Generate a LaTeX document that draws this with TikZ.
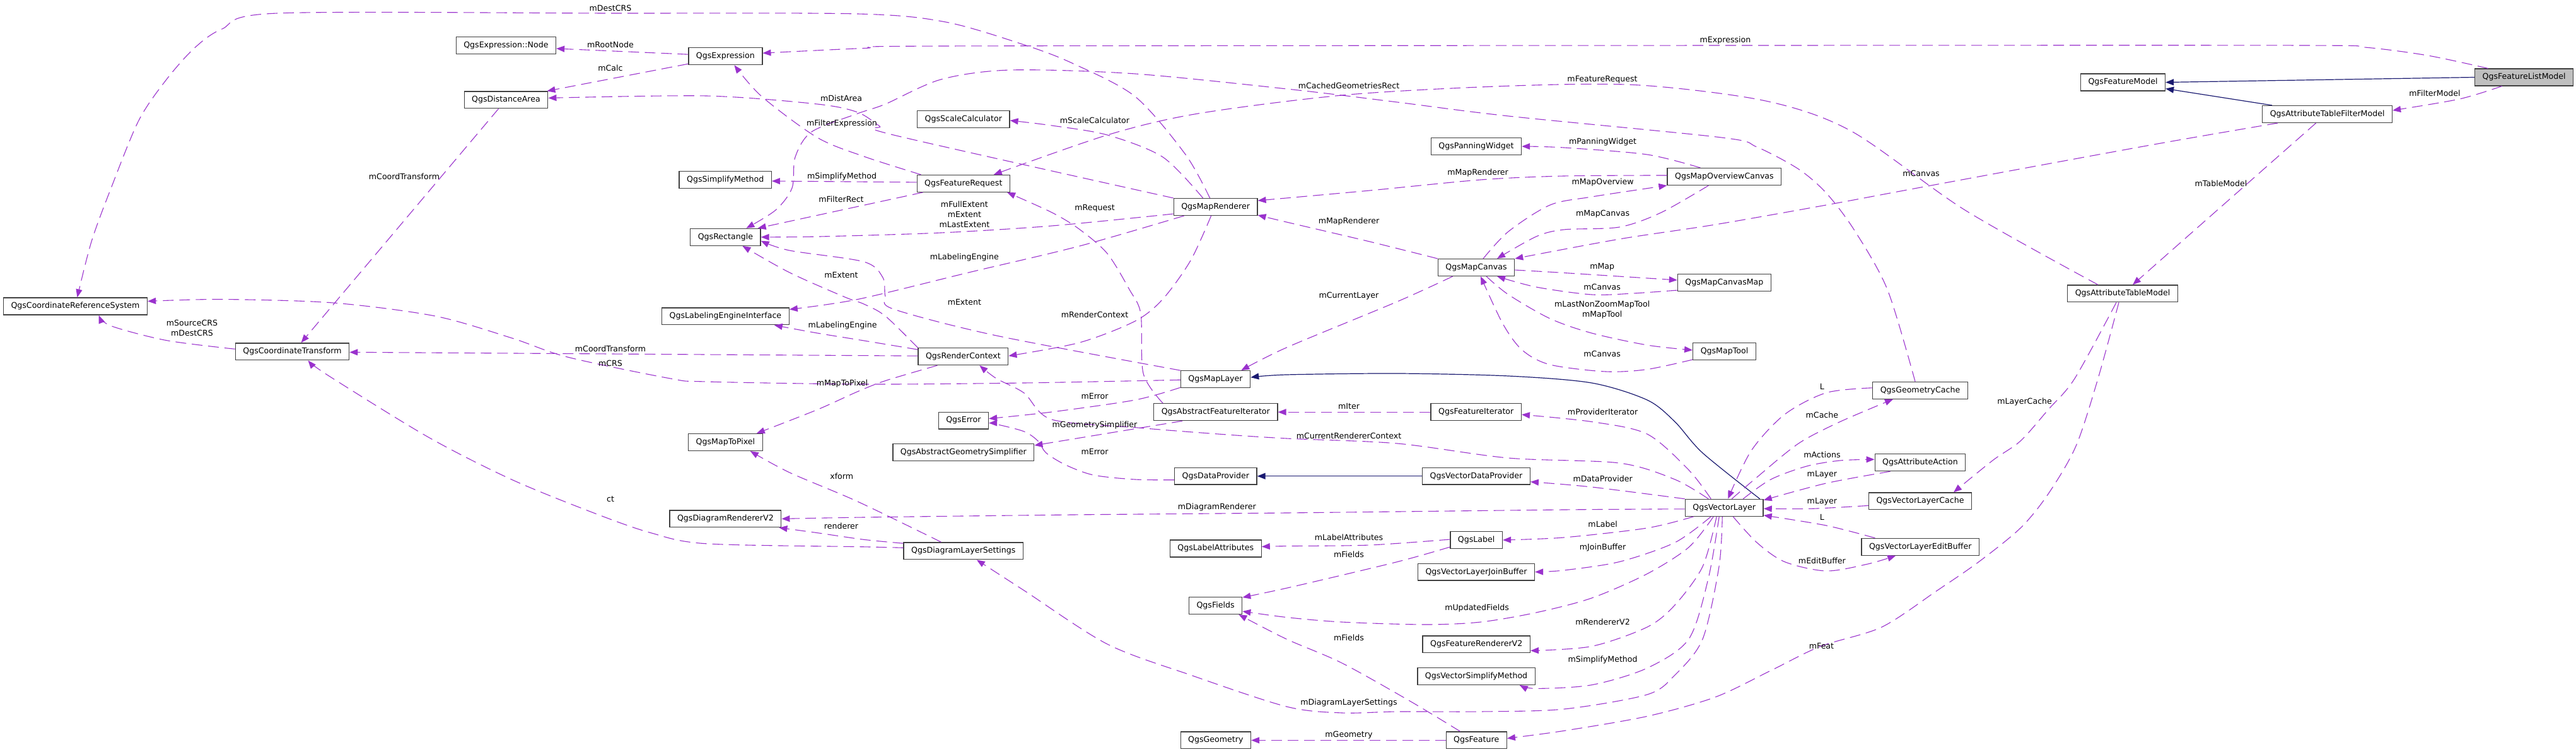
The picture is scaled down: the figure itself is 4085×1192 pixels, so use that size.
\documentclass[tikz,border=0pt]{standalone}
\usepackage{fontspec}
\setmainfont{DejaVu Sans}
\usetikzlibrary{arrows.meta,calc}
\definecolor{dorchid}{HTML}{9A32CD}
\definecolor{mblue}{HTML}{191970}
\definecolor{greyfill}{HTML}{BFBFBF}
\begin{document}
\begin{tikzpicture}[x=0.5pt,y=-0.5pt,
  cls/.style={draw=black!75, line width=0.65pt, fill=white, minimum height=13.4pt,
    inner xsep=6pt, inner ysep=0pt, font=\fontsize{6.3}{7.5}\selectfont},
  lab/.style={font=\fontsize{6.3}{8}\selectfont, inner sep=0pt, align=center},
  dep/.style={draw=dorchid, line width=0.55pt, dash pattern=on 8.5pt off 4.5pt,
    -{Triangle[length=6.5pt,width=5pt]}},
  inh/.style={draw=mblue, line width=0.6pt, -{Triangle[length=6.5pt,width=5pt]}},
  every plot/.style={smooth, tension=0.5}]
\fill[white] (0,0) rectangle (4085,1192);
\useasboundingbox (0,0) rectangle (4085,1192);

% ---------- classes ----------
\node[cls] (crs) at (119.5,485.5) {QgsCoordinateReferenceSystem};
\node[cls] (ct) at (463.5,557.3) {QgsCoordinateTransform};
\node[cls] (exnode) at (802.4,72) {QgsExpression::Node};
\node[cls] (expr) at (1150.4,89.2) {QgsExpression};
\node[cls] (dist) at (802.5,158.4) {QgsDistanceArea};
\node[cls] (simp) at (1150.2,285) {QgsSimplifyMethod};
\node[cls] (rect) at (1150.4,375.8) {QgsRectangle};
\node[cls] (lei) at (1150.4,501.4) {QgsLabelingEngineInterface};
\node[cls] (m2p) at (1150.4,701) {QgsMapToPixel};
\node[cls] (drv2) at (1150.4,822.4) {QgsDiagramRendererV2};
\node[cls] (scale) at (1527.8,189) {QgsScaleCalculator};
\node[cls] (freq) at (1527.8,290.9) {QgsFeatureRequest};
\node[cls] (rctx) at (1527.4,565.2) {QgsRenderContext};
\node[cls] (err) at (1527.9,666.6) {QgsError};
\node[cls] (ags) at (1527.8,717) {QgsAbstractGeometrySimplifier};
\node[cls] (dls) at (1527.8,873.3) {QgsDiagramLayerSettings};
\node[cls] (mrend) at (1927.6,328) {QgsMapRenderer};
\node[cls] (mlayer) at (1927.5,601.2) {QgsMapLayer};
\node[cls] (afi) at (1927.8,653.2) {QgsAbstractFeatureIterator};
\node[cls] (dprov) at (1927.8,754.7) {QgsDataProvider};
\node[cls] (lattr) at (1927.8,869.5) {QgsLabelAttributes};
\node[cls] (fields) at (1927.6,960) {QgsFields};
\node[cls] (geom) at (1927.8,1173.4) {QgsGeometry};
\node[cls] (pan) at (2341,232) {QgsPanningWidget};
\node[cls] (mcanvas) at (2341,424) {QgsMapCanvas};
\node[cls] (fiter) at (2340.7,653.2) {QgsFeatureIterator};
\node[cls] (vdp) at (2341,754.7) {QgsVectorDataProvider};
\node[cls] (label) at (2341.2,856) {QgsLabel};
\node[cls] (jbuf) at (2341,906.6) {QgsVectorLayerJoinBuffer};
\node[cls] (frv2) at (2341.2,1021.4) {QgsFeatureRendererV2};
\node[cls] (vsm) at (2341,1072) {QgsVectorSimplifyMethod};
\node[cls] (feat) at (2341.2,1173.4) {QgsFeature};
\node[cls] (moc) at (2734.4,280) {QgsMapOverviewCanvas};
\node[cls] (mcm) at (2734.4,448) {QgsMapCanvasMap};
\node[cls] (mtool) at (2734.5,557) {QgsMapTool};
\node[cls] (vl) at (2734.2,804.8) {QgsVectorLayer};
\node[cls] (gcache) at (3045,618.8) {QgsGeometryCache};
\node[cls] (aact) at (3045,733.2) {QgsAttributeAction};
\node[cls] (vlc) at (3045,794.4) {QgsVectorLayerCache};
\node[cls] (vleb) at (3045.2,866.8) {QgsVectorLayerEditBuffer};
\node[cls] (fmodel) at (3366.5,130.5) {QgsFeatureModel};
\node[cls] (atm) at (3366,465.4) {QgsAttributeTableModel};
\node[cls] (atfm) at (3690.6,181) {QgsAttributeTableFilterModel};
\node[cls,fill=greyfill] (flm) at (4002.6,122.5) {QgsFeatureListModel};

% ---------- inheritance ----------
\draw[inh] (flm.west) -- (fmodel.east);
\draw[inh] ($(atfm.north west)+(16,0)$) -- ($(fmodel.south east)+(0,-4)$);
\draw[inh] plot coordinates {($(vl.north east)+(-6,0)$) (2700,718) (2656,668.5) (2612,634) (2524,607) (2392,596) (2216,592) (2040,594) ($(mlayer.east)+(0,-3)$)};
\draw[inh] (vdp.west) -- (dprov.east);

% ---------- usage ----------
\draw[dep] plot coordinates {($(flm.south)+(-35,0)$) (3900,157) ($(atfm.east)+(0,-6)$)};
\draw[dep] plot coordinates {($(flm.north)+(-57,0)$) (3850,88) (3750,75) (3650,72) (2800,72) (1500,73) (1370,76.5) ($(expr.east)+(0,-5)$)};
\draw[dep] ($(atfm.south)+(-18,0)$) -- ($(atm.north)+(16,0)$);
\draw[dep] plot coordinates {($(atm.north)+(-39,0)$) (3116,333) (2936,208) (2800,160) (2600,135) (2400,136) (2139,150) (1900,180) (1756,214) ($(freq.north)+(48,0)$)};
\draw[dep] plot coordinates {($(gcache.north)+(-8,0)$) (2993,459) (2940,364) (2896,306) (2852,268) (2786,233) (2730,218) (2392,184) (2216,162) (2050,142) (1800,117) (1602,111) (1492,126) (1404,165) (1360,180) (1287,209) (1261,249) (1256,298) (1230,333) ($(rect.north)+(33,0)$)};
\draw[dep] plot coordinates {($(mrend.north)+(-9,0)$) (1880,245) (1800,153) (1700,100) (1624,71) (1500,35) (1360,22) (968,21) (440,21) (352,46) (308,76.5) (264,126) (220,191) (176,298.5) (145,383) ($(crs.north)+(3,0)$)};
\draw[dep] plot coordinates {($(mrend.north)+(-20,0)$) (1844,249) (1756,214) (1668,199) ($(scale.east)+(0,2)$)};
\draw[dep] plot coordinates {(mrend.north west) (1417,214) (1395,200) (1360,178) (1296,165) (1120,152) ($(dist.east)+(0,-3)$)};
\draw[dep] plot coordinates {($(freq.north west)+(7,0)$) (1370,248) (1296,218) (1208,153) ($(expr.south)+(14,0)$)};
\draw[dep] ($(expr.west)+(0,-3)$) -- ($(exnode.east)+(0,5)$);
\draw[dep] ($(expr.south west)+(0,-2)$) -- ($(dist.north east)+(-2,0)$);
\draw[dep] ($(freq.west)+(0,-2)$) -- ($(simp.east)+(0,2)$);
\draw[dep] ($(freq.south west)+(10,0)$) -- ($(rect.north east)+(-5,0)$);
\draw[dep] plot coordinates {($(mrend.west)+(0,11)$) (1668,358) (1492,369) (1300,375) (rect.east)};
\draw[dep] plot coordinates {(mlayer.north west) (1580,532) (1417,490) (1404,470) (1400,440) (1370,415) (1252,397) ($(rect.east)+(0,6)$)};
\draw[dep] plot coordinates {(rctx.north west) (1404,501) (1370,482) (1340,471) (1252,432) ($(rect.south)+(27,0)$)};
\draw[dep] plot coordinates {($(mrend.south)+(-7,0)$) (1888,413) (1844,474) (1800,509) (1712,543) ($(rctx.east)+(0,-1)$)};
\draw[dep] plot coordinates {($(vl.north)+(-25,0)$) (2656,760) (2568,734) (2392,726) (2216,703) (2040,695) (1932,688) (1804,678) (1668,665) (1624,623) (1580,600) ($(rctx.south)+(26,0)$)};
\draw[dep] plot coordinates {($(mrend.south west)+(17,0)$) (1712,390) (1536,432) (1360,474.5) ($(lei.east)+(0,-11)$)};
\draw[dep] plot coordinates {($(rctx.north west)+(0,3)$) (1370,540) (1296,528) ($(lei.south east)+(-24,0)$)};
\draw[dep] plot coordinates {($(moc.north)+(-38,0)$) (2612,245) (2480,234) (pan.east)};
\draw[dep] plot coordinates {($(moc.west)+(0,-2)$) (2480,279) (2348,285) (2172,302) ($(mrend.east)+(0,-10)$)};
\draw[dep] plot coordinates {($(mcanvas.north)+(11,0)$) (2392,367) (2458,325) (2524,312) (moc.south west)};
\draw[dep] plot coordinates {($(moc.south)+(-25,0)$) (2634,337) (2568,360) (2480,364) (2436,375) ($(mcanvas.north)+(33,0)$)};
\draw[dep] plot coordinates {($(atfm.south west)+(25,0)$) (3410,230) (3046,297) (2896,325) (2720,356) (2568,379) (mcanvas.north east)};
\draw[dep] plot coordinates {(mcanvas.north west) (2172,383) (2040,352) ($(mrend.east)+(0,13)$)};
\draw[dep] plot coordinates {($(mcanvas.east)+(0,4)$) (2480,432.5) ($(mcm.west)+(0,-4)$)};
\draw[dep] plot coordinates {($(mcm.south west)+(0,-2)$) (2590,465) (2524,467) (2436,455) ($(mcanvas.south)+(33,0)$)};
\draw[dep] plot coordinates {($(mcanvas.south)+(16,0)$) (2392,467) (2458,505) (2524,528) (2612,547) ($(mtool.west)+(0,-2)$)};
\draw[dep] plot coordinates {($(mtool.south west)+(0,-1)$) (2612,585.5) (2546,589) (2458,578) (2414,555) (2383,513) ($(mcanvas.south)+(7,0)$)};
\draw[dep] plot coordinates {($(mcanvas.south west)+(24,0)$) (2216,478) (2040,551) ($(mlayer.north east)+(-15,0)$)};
\draw[dep] plot coordinates {($(mlayer.west)+(0,1)$) (1624,607) (1370,609) (1120,605) (1063,600) (900,566) (812,536) (690,501) (528,480) (352,474.5) ($(crs.east)+(0,-8)$)};
\draw[dep] plot coordinates {($(mlayer.south west)+(0,-1)$) (1800,634) (1668,653) ($(err.east)+(0,-3)$)};
\draw[dep] plot coordinates {($(dprov.west)+(0,6)$) (1800,760) (1734,753) (1690,737) (1659,718) (1646,699) (1624,684) (1580,672.4) ($(err.east)+(0,4)$)};
\draw[dep] ($(afi.south west)+(46,0)$) -- ($(ags.east)+(0,-11)$);
\draw[dep] (fiter.west) -- (afi.east);
\draw[dep] plot coordinates {($(vl.north)+(-21,0)$) (2678,745) (2612,688) (2524,668.5) ($(fiter.east)+(0,4)$)};
\draw[dep] plot coordinates {(vl.north west) (2524,772) ($(vdp.east)+(0,9)$)};
\draw[dep] plot coordinates {($(vl.west)+(0,2)$) (2480,808) (2040,813) (1700,816) (1370,820) (drv2.east)};
\draw[dep] plot coordinates {($(vl.south west)+(14,0)$) (2612,837) (2480,852) (label.east)};
\draw[dep] plot coordinates {($(label.west)+(0,-1)$) (2172,864) (2040,865.6) ($(lattr.east)+(0,-3)$)};
\draw[dep] plot coordinates {($(label.south west)+(0,-3)$) (2216,890.5) (2050,930) ($(fields.east)+(0,-13)$)};
\draw[dep] plot coordinates {($(vl.south)+(-21,0)$) (2656,860) (2568,890.5) (2480,904) (jbuf.east)};
\draw[dep] plot coordinates {($(vl.south)+(-17,0)$) (2678,867.5) (2612,909.6) (2524,948) (2436,971) (2348,986) (2260,990) (2128,986) (2040,978.5) ($(fields.east)+(0,9)$)};
\draw[dep] plot coordinates {($(vl.south)+(-12,0)$) (2700,898) (2656,959) (2612,994) (2524,1024.5) ($(frv2.east)+(0,10)$)};
\draw[dep] plot coordinates {($(vl.south)+(-8,0)$) (2709,917) (2678,1013) (2612,1059) (2524,1085.7) (2436,1091.4) ($(vsm.south east)+(-25,0)$)};
\draw[dep] plot coordinates {($(vl.south)+(-3,0)$) (2726,898) (2700,1013) (2656,1070) (2612,1101) (2480,1124) (2348,1128) (2216,1128) (2128,1130) (2040,1120) (1888,1070) (1756,1021) (1624,936) ($(dls.south)+(21,0)$)};
\draw[dep] plot coordinates {($(feat.north west)+(23,0)$) (2238,1112.5) (2128,1051) (2040,1013) ($(fields.south east)+(-6,0)$)};
\draw[dep] (feat.west) -- (geom.east);
\draw[dep] plot coordinates {($(atm.south)+(-6,0)$) (3327,600) (3292,707) (3248,783) (3204,837) (3138,890.5) (3072,936) (2984,994) (2887,1024.5) (2808,1063) (2720,1105) (2612,1135.4) (2480,1158.4) ($(feat.east)+(0,-3)$)};
\draw[dep] plot coordinates {($(atm.south)+(-10,0)$) (3290,600) (3248,649.4) (3204,699) (3160,729.8) ($(vlc.north)+(53,0)$)};
\draw[dep] plot coordinates {($(gcache.west)+(0,-4)$) (2896,622.6) (2830,657) (2777,714.5) ($(vl.north)+(6,0)$)};
\draw[dep] plot coordinates {($(vl.north)+(12,0)$) (2786,756.6) (2852,703) (2918,668.5) ($(gcache.south)+(-43,0)$)};
\draw[dep] plot coordinates {($(vl.north)+(30,0)$) (2808,760) (2865,739) (2918,730) ($(aact.west)+(0,-5)$)};
\draw[dep] plot coordinates {($(aact.south west)+(25,0)$) (2896,766) ($(vl.east)+(0,-12)$)};
\draw[dep] plot coordinates {($(vlc.west)+(0,7)$) (2874,806.3) ($(vl.east)+(0,1.5)$)};
\draw[dep] plot coordinates {($(vleb.north west)+(22,0)$) (2896,833) ($(vl.east)+(0,12)$)};
\draw[dep] plot coordinates {($(vl.south)+(14,0)$) (2786,860) (2830,890.5) (2896,905) (2962,894) ($(vleb.south)+(-39,0)$)};
\draw[dep] plot coordinates {($(dls.north west)+(0,2)$) (1370,855.3) (1296,844.6) ($(drv2.south east)+(-4,0)$)};
\draw[dep] plot coordinates {($(dls.north west)+(60,0)$) (1360,795) (1252,749) ($(m2p.south east)+(-20,0)$)};
\draw[dep] plot coordinates {($(dls.west)+(0,-5)$) (1370,866.8) (1120,861.8) (1032,844.6) (944,814) (812,760.4) (680,693.4) (521.4,595.8) ($(ct.south)+(25,0)$)};
\draw[dep] plot coordinates {($(rctx.south west)+(31,0)$) (1404,603.5) (1360,620.7) (1296,649.4) ($(m2p.north east)+(-10,0)$)};
\draw[dep] ($(rctx.west)+(0,-1)$) -- ($(ct.east)+(0,1)$);
\draw[dep] ($(dist.south)+(-12,0)$) -- ($(ct.north)+(14,0)$);
\draw[dep] plot coordinates {($(ct.west)+(0,-4)$) (264,539.6) (176,516.6) ($(crs.south)+(37,0)$)};
\draw[dep] plot coordinates {($(afi.north west)+(15,0)$) (1813,592) (1809,497.5) (1791,459) (1756,402) (1712,363.6) (1668,336.8) ($(freq.south east)+(-5,0)$)};

% ---------- edge labels ----------
\node[lab] (t1) at (968,12.6) {mDestCRS};
\node[lab] (t2) at (2736,64) {mExpression};
\node[lab] (t3) at (968,70.4) {mRootNode};
\node[lab] (t4) at (968,107.5) {mCalc};
\node[lab] (t5) at (1334,155.4) {mDistArea};
\node[lab] (t6) at (1335,195.6) {mFilterExpression};
\node[lab] (t7) at (2139,135.5) {mCachedGeometriesRect};
\node[lab] (t8) at (2541,126.5) {mFeatureRequest};
\node[lab] (t9) at (3861,148) {mFilterModel};
\node[lab] (t10) at (1736,190.6) {mScaleCalculator};
\node[lab] (t11) at (2541.6,224.6) {mPanningWidget};
\node[lab] (t12) at (1335,279.6) {mSimplifyMethod};
\node[lab] (t13) at (1334,315.7) {mFilterRect};
\node[lab] (t14) at (2343.6,274.4) {mMapRenderer};
\node[lab] (t15) at (2541.6,288.6) {mMapOverview};
\node[lab] (t16) at (3046.5,274.8) {mCanvas};
\node[lab] (t17) at (3522,291) {mTableModel};
\node[lab] (t18) at (1529.4,339.8) {mFullExtent\\mExtent\\mLastExtent};
\node[lab] (t19) at (1736,330.6) {mRequest};
\node[lab] (t20) at (2541.6,338.7) {mMapCanvas};
\node[lab] (t21) at (2139,351.3) {mMapRenderer};
\node[lab] (t22) at (1529.4,408) {mLabelingEngine};
\node[lab] (t23) at (2540.7,423.6) {mMap};
\node[lab] (t24) at (1334,435.5) {mExtent};
\node[lab] (t25) at (2540.7,454.6) {mCanvas};
\node[lab] (t26) at (2139,468.8) {mCurrentLayer};
\node[lab] (t27) at (1529.4,478.8) {mExtent};
\node[lab] (t28) at (2540.7,490.6) {mLastNonZoomMapTool\\mMapTool};
\node[lab] (t29) at (1736,498.6) {mRenderContext};
\node[lab] (t30) at (1336,516) {mLabelingEngine};
\node[lab] (t31) at (304.5,519.6) {mSourceCRS\\mDestCRS};
\node[lab] (t32) at (968,552.6) {mCoordTransform};
\node[lab] (t33) at (641,279.4) {mCoordTransform};
\node[lab] (t34) at (968,576) {mCRS};
\node[lab] (t35) at (1335.5,608.5) {mMapToPixel};
\node[lab] (t36) at (2540.7,560.6) {mCanvas};
\node[lab] (t37) at (1736,627.6) {mError};
\node[lab] (t38) at (3210.6,636.8) {mLayerCache};
\node[lab] (t39) at (2139,644.4) {mIter};
\node[lab] (t40) at (2541.6,652.5) {mProviderIterator};
\node[lab] (t41) at (1736,674.3) {mGeometrySimplifier};
\node[lab] (t42) at (2139,690.7) {mCurrentRendererContext};
\node[lab] (t43) at (1736,716.4) {mError};
\node[lab] (t44) at (2889.4,613) {L};
\node[lab] (t45) at (2889.4,658) {mCache};
\node[lab] (t46) at (2889.4,720.6) {mActions};
\node[lab] (t47) at (2889.4,752.7) {mLayer};
\node[lab] (t48) at (2541.6,759) {mDataProvider};
\node[lab] (t49) at (1334.7,754.3) {xform};
\node[lab] (t50) at (968,791.4) {ct};
\node[lab] (t51) at (2889.4,795.6) {mLayer};
\node[lab] (t52) at (1929.8,804.4) {mDiagramRenderer};
\node[lab] (t53) at (2889.4,820) {L};
\node[lab] (t54) at (2541.6,831) {mLabel};
\node[lab] (t55) at (1334,834.2) {renderer};
\node[lab] (t56) at (2139,851.5) {mLabelAttributes};
\node[lab] (t57) at (2541.6,868.3) {mJoinBuffer};
\node[lab] (t58) at (2139,878.3) {mFields};
\node[lab] (t59) at (2889.4,888.6) {mEditBuffer};
\node[lab] (t60) at (2342,964.4) {mUpdatedFields};
\node[lab] (t61) at (2541.6,986) {mRendererV2};
\node[lab] (t62) at (2139,1010.3) {mFields};
\node[lab] (t63) at (2888.5,1023.7) {mFeat};
\node[lab] (t64) at (2541.6,1046) {mSimplifyMethod};
\node[lab] (t65) at (2139,1114.4) {mDiagramLayerSettings};
\node[lab] (t66) at (2139,1165) {mGeometry};
\end{tikzpicture}
\end{document}
